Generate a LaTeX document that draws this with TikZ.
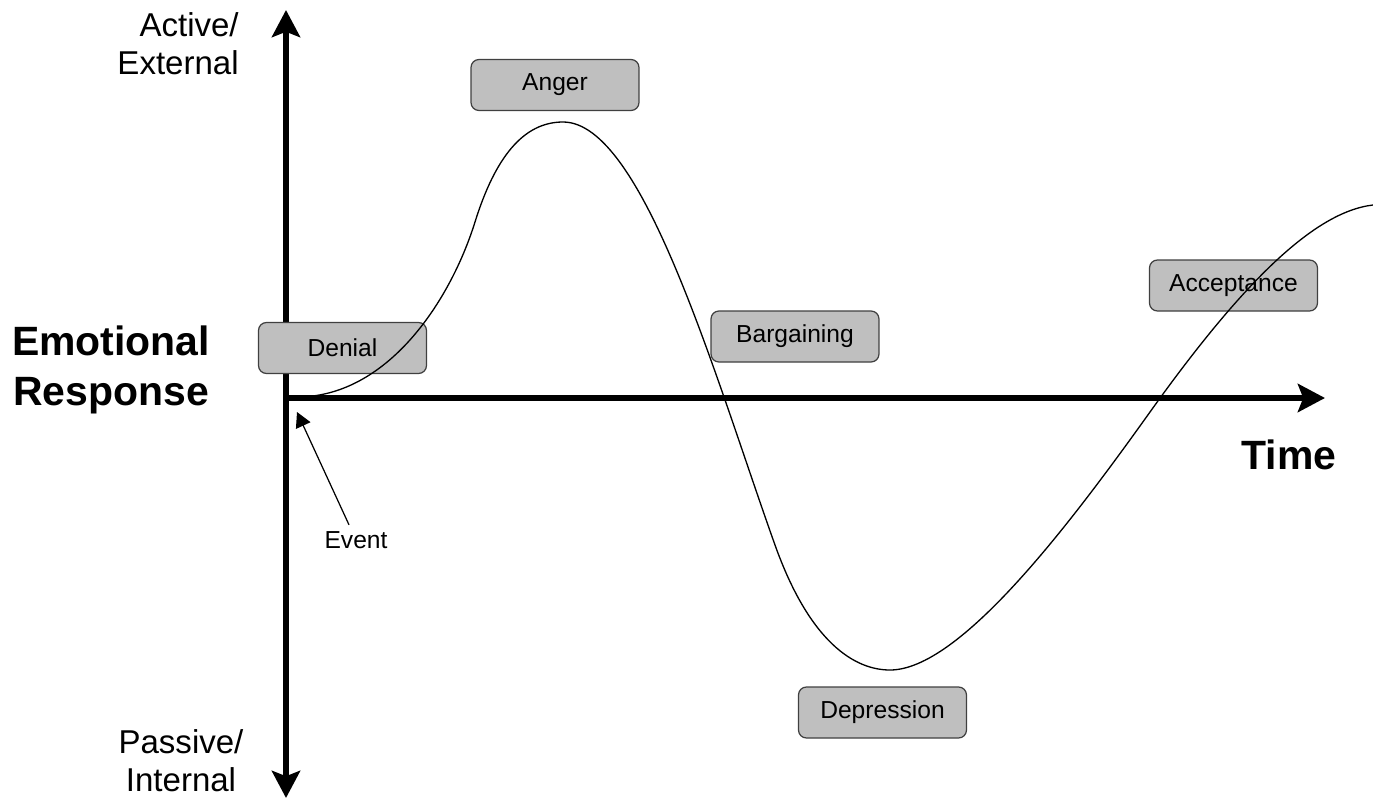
\documentclass[tikz,border=0pt]{standalone}
\usepackage{fontspec}
\setmainfont{Liberation Sans}
\usetikzlibrary{arrows.meta}
\begin{document}
\begin{tikzpicture}[x=0.02cm,y=-0.02cm,
  stage/.style={draw=black!75, fill=black!25, line width=0.7pt, rounded corners=4.5pt,
    minimum width=3.36cm, minimum height=1.02cm, inner sep=0pt,
    font=\fontsize{14}{16}\selectfont},
  axisline/.style={line width=3.4pt, -{Stealth[length=15.4pt,width=16pt,inset=3pt]}},
  sidelabel/.style={font=\fontsize{18.8}{21.6}\selectfont, inner sep=0pt},
  biglabel/.style={font=\fontsize{23.3}{28.5}\selectfont\bfseries, inner sep=0pt},
  evarrow/.style={line width=0.7pt, -{Triangle[length=8.5pt,width=9pt]}, shorten <=0.1cm},
  response/.style={line width=0.75pt}
]
\useasboundingbox (0,0) rectangle (1373,805);

% axes
\coordinate (origin) at (286,398);
\coordinate (ytop) at (286,10);
\coordinate (ybot) at (286,798);
\coordinate (xend) at (1325,398);
\draw[axisline] (origin) -- (ytop);
\draw[axisline] (origin) -- (ybot);
\draw[axisline] (origin) -- (xend);

% axis labels
\node[sidelabel, align=right, anchor=east] (active) at (239,44) {Active/\\External};
\node[sidelabel, align=center] (passive) at (181,761) {Passive/\\Internal};
\node[biglabel, align=center] (emo) at (111,370) {Emotional\\Response};
\node[biglabel] (time) at (1289,455) {Time};

% stages
\node[stage] (denial) at (342.5,348) {Denial};
\node[stage] (anger) at (555,85) {Anger};
\node[stage] (bargain) at (795,336.5) {Bargaining};
\node[stage] (accept) at (1233.5,285.5) {Acceptance};
\node[stage] (depress) at (882.5,712.5) {Depression};

% response curve
\draw[response] (297,397)
  .. controls (387,397) and (450,302) .. (475,222)
  .. controls (495,158) and (523,122) .. (563,122)
  .. controls (643,122) and (715,377) .. (775,545)
  .. controls (810,643) and (855,670) .. (890,670)
  .. controls (960,670) and (1070,524) .. (1150,412)
  .. controls (1240,286) and (1313,212) .. (1373,205);

% event
\node[font=\fontsize{14}{16}\selectfont, inner sep=1pt] (event) at (356,540) {Event};
\coordinate (evtip) at (297,412);
\draw[evarrow] (event) -- (evtip);
\end{tikzpicture}
\end{document}
